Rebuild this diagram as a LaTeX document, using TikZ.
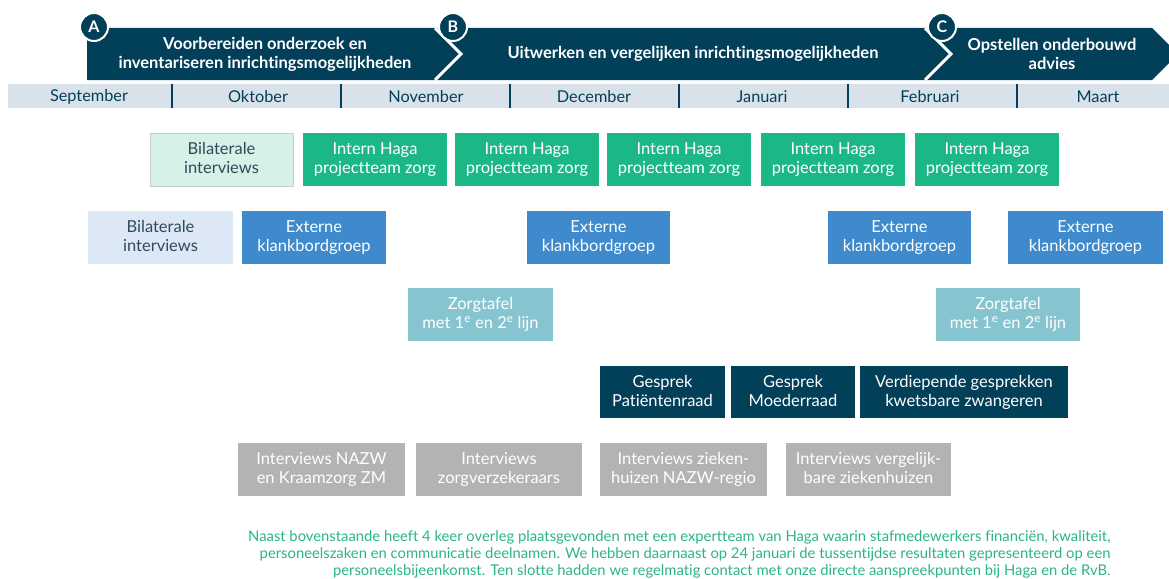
\documentclass[tikz,border=0pt]{standalone}
\usepackage{fontspec}
\setmainfont[Ligatures=NoCommon]{Lato}
\newfontfamily\notefont[Ligatures=NoCommon]{Lato}
\begin{document}
\begin{tikzpicture}[x=1pt,y=-1pt,
  box/.style={rectangle,inner sep=0pt,align=center,font=\fontsize{16.5}{19}\selectfont,text=white},
  phase/.style={font=\bfseries\fontsize{16.5}{19}\selectfont,text=white,align=center},
  badge/.style={circle,fill=navyc,draw=white,line width=2pt,minimum size=28pt,inner sep=0pt,text=white,font=\bfseries\fontsize{16}{16}\selectfont},
  month/.style={font=\fontsize{16.3}{16}\selectfont,text=navyc},
  note/.style={font=\notefont\fontsize{14.8}{17}\selectfont,text=notegreen,align=right,anchor=north east}
]
\definecolor{navyc}{HTML}{023F59}
\definecolor{barc}{HTML}{D9E2E8}
\definecolor{greenc}{HTML}{1CB787}
\definecolor{mintc}{HTML}{D5F1E8}
\definecolor{lblue}{HTML}{DCE8F5}
\definecolor{bluec}{HTML}{3E8ACC}
\definecolor{tealc}{HTML}{86C5CF}
\definecolor{grayc}{HTML}{B3B3B3}
\definecolor{darktext}{HTML}{30495A}
\definecolor{notegreen}{HTML}{2BB57F}
% filled activity block with centred two-line label
\newcommand{\timebox}[7]{% name, x1, y1, x2, y2, fill, text
  \fill[#6] (#2,#3) rectangle (#4,#5);
  \node[box] (#1) at ({(#2+#4)/2},{(#3+#5)/2}) {#7\vphantom{gj}};
}
\clip (0,0) rectangle (1169,578);
\useasboundingbox (0,0) rectangle (1169,578);

% phase banner
\fill[navyc] (87,28) -- (1152,28) -- (1178,54) -- (1152,80) -- (87,80) -- cycle;
\draw[white,line width=3pt] (435,28) -- (461,54) -- (435,80);
\draw[white,line width=3pt] (925,28) -- (951,54) -- (925,80);
\node[phase] (pA) at (265,54) {Voorbereiden onderzoek en\\inventariseren inrichtingsmogelijkheden};
\node[phase] (pB) at (693,54) {Uitwerken en vergelijken inrichtingsmogelijkheden};
\node[phase] (pC) at (1052,54) {Opstellen onderbouwd\\advies};
\node[badge] (bA) at (94,27) {A};
\node[badge] (bB) at (453,27) {B};
\node[badge] (bC) at (942,27) {C};

% month bar
\fill[barc] (8,84) rectangle (1169,108);
\foreach \x in {172,341,510,679,848,1017}
  \draw[navyc,line width=2pt] (\x,84) -- (\x,108);
\foreach \x/\m/\n in {89/September/m1,258/Oktober/m2,426/November/m3,594/December/m4,762/Januari/m5,930/Februari/m6,1098/Maart/m7}
  \node[month] (\n) at (\x,97) {\m};

% row 1
\fill[mintc,draw=gray!40,line width=0.8pt] (150,133) rectangle (293,186);
\node[box,text=darktext] (r1a) at (221.5,159.5) {Bilaterale\\interviews\vphantom{gj}};
\timebox{r1b}{303}{133}{447}{186}{greenc}{Intern Haga\\projectteam zorg}
\timebox{r1c}{455}{133}{599}{186}{greenc}{Intern Haga\\projectteam zorg}
\timebox{r1d}{607}{133}{751}{186}{greenc}{Intern Haga\\projectteam zorg}
\timebox{r1e}{761}{133}{905}{186}{greenc}{Intern Haga\\projectteam zorg}
\timebox{r1f}{915}{133}{1059}{186}{greenc}{Intern Haga\\projectteam zorg}

% row 2
\fill[lblue] (88,211) rectangle (233,264);
\node[box,text=darktext] (r2a) at (160.5,237.5) {Bilaterale\\interviews\vphantom{gj}};
\timebox{r2b}{242}{211}{386}{264}{bluec}{Externe\\klankbordgroep}
\timebox{r2c}{527}{211}{670}{264}{bluec}{Externe\\klankbordgroep}
\timebox{r2d}{828}{211}{971}{264}{bluec}{Externe\\klankbordgroep}
\timebox{r2e}{1008}{211}{1163}{264}{bluec}{Externe\\klankbordgroep}

% row 3
\timebox{r3a}{408}{288}{553}{341}{tealc}{Zorgtafel\\met 1\textsuperscript{e} en 2\textsuperscript{e} lijn}
\timebox{r3b}{936}{288}{1080}{341}{tealc}{Zorgtafel\\met 1\textsuperscript{e} en 2\textsuperscript{e} lijn}

% row 4
\timebox{r4a}{600}{366}{725}{418}{navyc}{Gesprek\\Patiëntenraad}
\timebox{r4b}{731}{366}{855}{418}{navyc}{Gesprek\\Moederraad}
\timebox{r4c}{860}{366}{1068}{418}{navyc}{Verdiepende gesprekken\\kwetsbare zwangeren}

% row 5
\timebox{r5a}{238}{443}{405}{496}{grayc}{Interviews NAZW\\en Kraamzorg ZM}
\timebox{r5b}{416}{443}{582}{496}{grayc}{Interviews\\zorgverzekeraars}
\timebox{r5c}{600}{443}{767}{496}{grayc}{Interviews zieken-\\huizen NAZW-regio}
\timebox{r5d}{786}{443}{951}{496}{grayc}{Interviews vergelijk-\\bare ziekenhuizen}

% closing note
\node[note] (note) at (1114,527) {Naast bovenstaande heeft 4 keer overleg plaatsgevonden met een expertteam van Haga waarin stafmedewerkers financiën, kwaliteit,\\
personeelszaken en communicatie deelnamen. We hebben daarnaast op 24 januari de tussentijdse resultaten gepresenteerd op een\\
personeelsbijeenkomst. Ten slotte hadden we regelmatig contact met onze directe aanspreekpunten bij Haga en de RvB.};
\end{tikzpicture}
\end{document}
